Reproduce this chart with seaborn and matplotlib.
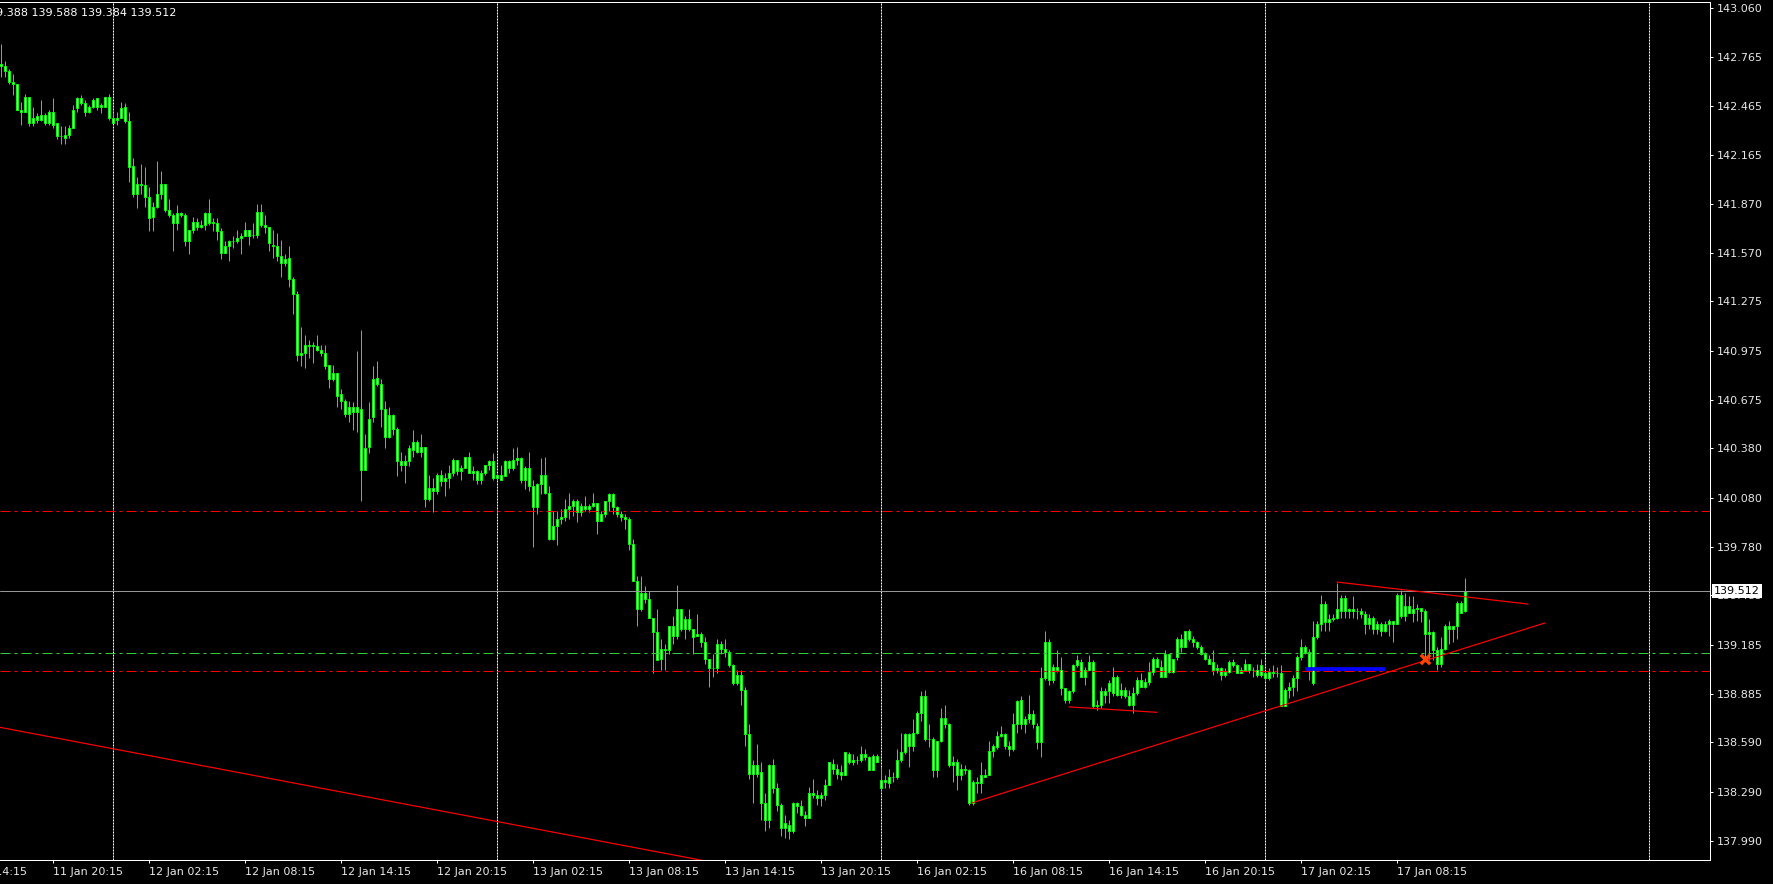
import numpy as np
import pandas as pd
import matplotlib
matplotlib.use("Agg")
import matplotlib.pyplot as plt
import seaborn as sns

# M15 candles, one per bar
opens = [
    142.72, 142.71, 142.68, 142.61, 142.60, 142.44, 142.43, 142.52, 142.36, 142.38,
    142.38, 142.41, 142.36, 142.43, 142.36, 142.28, 142.27, 142.29, 142.33, 142.45,
    142.48, 142.48, 142.43, 142.46, 142.46, 142.47, 142.46, 142.52, 142.36, 142.38,
    142.39, 142.46, 142.37, 142.10, 141.93, 141.99, 141.98, 141.91, 141.79, 141.85,
    141.93, 141.99, 141.83, 141.80, 141.75, 141.81, 141.80, 141.64, 141.71, 141.76,
    141.73, 141.74, 141.81, 141.76, 141.75, 141.70, 141.57, 141.61, 141.64, 141.64,
    141.66, 141.67, 141.71, 141.68, 141.68, 141.82, 141.74, 141.73, 141.62, 141.61,
    141.55, 141.51, 141.54, 141.41, 141.32, 140.95, 140.96, 141.00, 141.01, 141.00,
    140.98, 140.96, 140.89, 140.80, 140.84, 140.71, 140.67, 140.59, 140.63, 140.60,
    140.62, 140.25, 140.39, 140.57, 140.81, 140.77, 140.62, 140.45, 140.58, 140.50,
    140.30, 140.28, 140.30, 140.37, 140.42, 140.36, 140.39, 140.07, 140.14, 140.12,
    140.22, 140.18, 140.20, 140.23, 140.31, 140.24, 140.26, 140.33, 140.23, 140.24,
    140.19, 140.23, 140.28, 140.30, 140.20, 140.22, 140.21, 140.30, 140.26, 140.31,
    140.32, 140.19, 140.26, 140.15, 140.02, 140.16, 140.22, 140.11, 139.83, 139.91,
    139.95, 139.96, 140.01, 140.03, 140.06, 139.99, 140.03, 140.01, 140.03, 140.05,
    139.94, 139.98, 140.06, 140.10, 140.02, 139.98, 139.96, 139.95, 139.80, 139.57,
    139.40, 139.50, 139.46, 139.35, 139.26, 139.10, 139.16, 139.15, 139.30, 139.24,
    139.40, 139.28, 139.34, 139.28, 139.24, 139.25, 139.20, 139.10, 139.04, 139.04,
    139.19, 139.16, 139.14, 139.06, 138.95, 139.00, 138.91, 138.64, 138.40, 138.45,
    138.41, 138.22, 138.12, 138.45, 138.31, 138.21, 138.07, 138.09, 138.05, 138.22,
    138.20, 138.15, 138.13, 138.28, 138.27, 138.25, 138.27, 138.33, 138.46, 138.43,
    138.39, 138.39, 138.52, 138.47, 138.48, 138.48, 138.52, 138.50, 138.42, 138.51,
    138.31, 138.36, 138.34, 138.38, 138.38, 138.48, 138.53, 138.64, 138.57, 138.65,
    138.77, 138.87, 138.61, 138.61, 138.42, 138.60, 138.74, 138.70, 138.45, 138.47,
    138.39, 138.43, 138.42, 138.22, 138.35, 138.34, 138.38, 138.39, 138.54, 138.56,
    138.63, 138.64, 138.57, 138.55, 138.70, 138.85, 138.70, 138.73, 138.76, 138.69,
    138.59, 138.98, 139.20, 138.97, 139.05, 139.03, 138.92, 138.85, 138.90, 139.06,
    139.08, 138.99, 139.03, 139.08, 138.81, 138.82, 138.90, 138.90, 138.89, 138.99,
    138.88, 138.91, 138.87, 138.82, 138.89, 138.97, 138.93, 138.96, 139.02, 139.10,
    139.05, 138.99, 139.13, 139.02, 139.11, 139.22, 139.17, 139.27, 139.22, 139.20,
    139.17, 139.13, 139.10, 139.08, 139.03, 139.04, 139.00, 139.02, 139.08, 139.06,
    139.01, 139.03, 139.07, 139.03, 139.03, 139.00, 139.01, 138.98, 139.02, 139.01,
    139.01, 138.81, 138.91, 138.93, 138.98, 139.11, 139.17, 139.14, 138.95, 139.23,
    139.31, 139.43, 139.32, 139.34, 139.35, 139.39, 139.47, 139.39, 139.40, 139.39,
    139.39, 139.37, 139.31, 139.35, 139.28, 139.31, 139.27, 139.31, 139.33, 139.31,
    139.49, 139.36, 139.42, 139.38, 139.40, 139.41, 139.39, 139.25, 139.26, 139.15,
    139.07, 139.16, 139.30, 139.28, 139.30, 139.44, 139.388,
]
highs = [
    142.84, 142.74, 142.69, 142.66, 142.60, 142.49, 142.54, 142.52, 142.46, 142.42,
    142.50, 142.42, 142.44, 142.51, 142.36, 142.34, 142.34, 142.35, 142.47, 142.52,
    142.53, 142.50, 142.47, 142.51, 142.51, 142.48, 142.52, 142.54, 142.43, 142.43,
    142.49, 142.48, 142.43, 142.15, 142.03, 142.11, 142.09, 141.97, 141.88, 142.13,
    142.07, 141.99, 141.90, 141.81, 141.86, 141.82, 141.81, 141.71, 141.79, 141.78,
    141.77, 141.82, 141.90, 141.78, 141.78, 141.72, 141.64, 141.65, 141.67, 141.71,
    141.69, 141.76, 141.71, 141.75, 141.87, 141.87, 141.80, 141.73, 141.71, 141.69,
    141.65, 141.56, 141.61, 141.42, 141.34, 141.12, 141.07, 141.04, 141.03, 141.07,
    141.01, 141.01, 140.89, 140.89, 140.84, 140.74, 140.68, 140.67, 140.66, 140.97,
    141.10, 140.47, 140.66, 140.88, 140.91, 140.80, 140.67, 140.63, 140.59, 140.51,
    140.36, 140.34, 140.40, 140.49, 140.43, 140.47, 140.39, 140.22, 140.20, 140.23,
    140.25, 140.23, 140.28, 140.32, 140.31, 140.28, 140.33, 140.36, 140.27, 140.25,
    140.25, 140.28, 140.31, 140.35, 140.22, 140.28, 140.31, 140.31, 140.38, 140.39,
    140.33, 140.27, 140.36, 140.19, 140.17, 140.32, 140.33, 140.15, 140.00, 140.00,
    140.01, 140.07, 140.11, 140.07, 140.07, 140.05, 140.09, 140.04, 140.11, 140.05,
    140.00, 140.06, 140.11, 140.11, 140.03, 140.00, 139.98, 139.96, 139.83, 139.60,
    139.60, 139.54, 139.51, 139.35, 139.40, 139.22, 139.19, 139.30, 139.36, 139.55,
    139.40, 139.36, 139.40, 139.28, 139.37, 139.26, 139.23, 139.10, 139.13, 139.22,
    139.21, 139.22, 139.15, 139.07, 139.03, 139.03, 138.93, 138.70, 138.48, 138.58,
    138.47, 138.28, 138.46, 138.49, 138.34, 138.22, 138.15, 138.12, 138.23, 138.23,
    138.24, 138.17, 138.32, 138.37, 138.30, 138.29, 138.37, 138.47, 138.49, 138.46,
    138.45, 138.53, 138.53, 138.52, 138.51, 138.57, 138.55, 138.51, 138.52, 138.52,
    138.44, 138.39, 138.43, 138.41, 138.55, 138.65, 138.65, 138.65, 138.73, 138.78,
    138.90, 138.91, 138.70, 138.62, 138.60, 138.80, 138.82, 138.71, 138.51, 138.49,
    138.46, 138.45, 138.43, 138.36, 138.38, 138.47, 138.43, 138.60, 138.58, 138.66,
    138.69, 138.65, 138.60, 138.77, 138.85, 138.87, 138.75, 138.88, 138.79, 138.71,
    139.05, 139.27, 139.22, 139.07, 139.15, 139.11, 138.92, 138.91, 139.07, 139.12,
    139.10, 139.05, 139.12, 139.09, 138.85, 138.93, 138.92, 138.97, 139.05, 139.00,
    138.95, 138.93, 138.91, 138.93, 138.99, 139.01, 138.98, 139.08, 139.11, 139.11,
    139.09, 139.15, 139.13, 139.10, 139.23, 139.25, 139.27, 139.28, 139.24, 139.21,
    139.18, 139.14, 139.12, 139.15, 139.07, 139.05, 139.04, 139.09, 139.10, 139.07,
    139.05, 139.10, 139.07, 139.05, 139.07, 139.10, 139.03, 139.04, 139.06, 139.05,
    139.06, 138.92, 138.96, 139.00, 139.12, 139.22, 139.18, 139.16, 139.33, 139.33,
    139.49, 139.45, 139.37, 139.37, 139.56, 139.49, 139.49, 139.41, 139.48, 139.41,
    139.41, 139.39, 139.37, 139.36, 139.33, 139.32, 139.33, 139.34, 139.33, 139.50,
    139.52, 139.50, 139.48, 139.48, 139.43, 139.41, 139.40, 139.34, 139.27, 139.17,
    139.23, 139.31, 139.33, 139.30, 139.45, 139.45, 139.588,
]
lows = [
    142.64, 142.64, 142.60, 142.53, 142.44, 142.35, 142.43, 142.34, 142.34, 142.36,
    142.37, 142.35, 142.35, 142.33, 142.26, 142.23, 142.23, 142.27, 142.33, 142.43,
    142.47, 142.40, 142.42, 142.45, 142.44, 142.42, 142.46, 142.38, 142.36, 142.35,
    142.39, 142.36, 142.00, 141.91, 141.84, 141.93, 141.85, 141.70, 141.70, 141.84,
    141.90, 141.82, 141.79, 141.58, 141.71, 141.79, 141.61, 141.56, 141.69, 141.71,
    141.72, 141.71, 141.74, 141.70, 141.65, 141.53, 141.57, 141.52, 141.60, 141.63,
    141.56, 141.67, 141.62, 141.66, 141.66, 141.73, 141.69, 141.58, 141.54, 141.52,
    141.42, 141.49, 141.36, 141.20, 140.91, 140.88, 140.87, 140.93, 140.90, 140.97,
    140.94, 140.86, 140.75, 140.79, 140.63, 140.62, 140.57, 140.54, 140.49, 140.48,
    140.06, 140.25, 140.35, 140.54, 140.76, 140.51, 140.38, 140.44, 140.46, 140.21,
    140.24, 140.17, 140.27, 140.33, 140.35, 140.33, 140.02, 140.06, 139.99, 140.10,
    140.15, 140.09, 140.14, 140.21, 140.22, 140.19, 140.26, 140.23, 140.19, 140.16,
    140.16, 140.22, 140.25, 140.19, 140.19, 140.19, 140.21, 140.23, 140.25, 140.28,
    140.17, 140.13, 140.12, 139.78, 139.98, 140.10, 140.10, 139.82, 139.82, 139.79,
    139.92, 139.94, 139.95, 139.97, 139.93, 139.97, 140.00, 139.99, 140.02, 139.86,
    139.94, 139.96, 140.00, 139.98, 139.96, 139.94, 139.89, 139.76, 139.57, 139.30,
    139.39, 139.44, 139.35, 139.01, 139.09, 139.03, 139.03, 139.13, 139.19, 139.22,
    139.27, 139.22, 139.27, 139.13, 139.24, 139.17, 139.07, 138.93, 138.99, 139.01,
    139.13, 139.11, 139.05, 138.94, 138.94, 138.82, 138.57, 138.37, 138.22, 138.38,
    138.12, 138.05, 138.07, 138.28, 138.17, 138.02, 138.01, 138.00, 138.04, 138.16,
    138.14, 138.08, 138.13, 138.25, 138.21, 138.20, 138.24, 138.33, 138.40, 138.37,
    138.36, 138.39, 138.46, 138.45, 138.46, 138.47, 138.48, 138.42, 138.42, 138.47,
    138.30, 138.31, 138.31, 138.35, 138.37, 138.47, 138.52, 138.44, 138.54, 138.64,
    138.72, 138.60, 138.56, 138.38, 138.38, 138.59, 138.68, 138.44, 138.35, 138.30,
    138.36, 138.40, 138.21, 138.21, 138.28, 138.28, 138.38, 138.39, 138.50, 138.55,
    138.62, 138.55, 138.51, 138.54, 138.65, 138.67, 138.65, 138.71, 138.68, 138.55,
    138.50, 138.97, 138.94, 138.95, 139.02, 138.88, 138.83, 138.83, 138.89, 139.05,
    138.99, 138.94, 139.03, 138.80, 138.79, 138.80, 138.83, 138.83, 138.87, 138.87,
    138.86, 138.86, 138.81, 138.77, 138.88, 138.93, 138.92, 138.94, 139.00, 139.05,
    138.99, 138.99, 139.01, 139.01, 139.09, 139.14, 139.17, 139.21, 139.17, 139.16,
    139.12, 139.09, 139.07, 139.00, 139.01, 138.97, 138.99, 139.01, 139.05, 139.01,
    139.01, 139.03, 139.01, 138.99, 138.99, 138.99, 138.97, 138.97, 138.99, 138.99,
    138.81, 138.81, 138.86, 138.87, 138.90, 139.09, 139.13, 138.97, 138.94, 139.22,
    139.27, 139.27, 139.27, 139.33, 139.34, 139.35, 139.35, 139.35, 139.35, 139.34,
    139.35, 139.25, 139.28, 139.25, 139.25, 139.24, 139.26, 139.24, 139.20, 139.31,
    139.35, 139.33, 139.38, 139.32, 139.33, 139.32, 139.10, 139.09, 139.09, 139.03,
    139.05, 139.15, 139.19, 139.20, 139.22, 139.38, 139.384,
]
closes = [
    142.71, 142.68, 142.61, 142.60, 142.44, 142.43, 142.52, 142.36, 142.39, 142.40,
    142.41, 142.36, 142.43, 142.35, 142.28, 142.28, 142.29, 142.33, 142.44, 142.51,
    142.51, 142.43, 142.46, 142.50, 142.51, 142.46, 142.52, 142.39, 142.39, 142.39,
    142.45, 142.37, 142.09, 141.93, 141.99, 141.98, 141.91, 141.78, 141.85, 141.93,
    141.99, 141.83, 141.80, 141.75, 141.81, 141.80, 141.64, 141.71, 141.76, 141.73,
    141.74, 141.81, 141.75, 141.75, 141.70, 141.57, 141.61, 141.64, 141.64, 141.66,
    141.67, 141.71, 141.67, 141.68, 141.82, 141.74, 141.73, 141.63, 141.61, 141.55,
    141.51, 141.53, 141.41, 141.32, 140.95, 140.96, 141.01, 141.01, 141.00, 140.98,
    140.96, 140.88, 140.80, 140.84, 140.70, 140.67, 140.59, 140.63, 140.60, 140.63,
    140.25, 140.38, 140.56, 140.80, 140.77, 140.62, 140.45, 140.58, 140.50, 140.30,
    140.28, 140.30, 140.38, 140.42, 140.36, 140.39, 140.07, 140.14, 140.12, 140.22,
    140.18, 140.20, 140.23, 140.31, 140.24, 140.26, 140.33, 140.23, 140.24, 140.19,
    140.23, 140.28, 140.30, 140.20, 140.22, 140.19, 140.30, 140.26, 140.31, 140.32,
    140.19, 140.26, 140.15, 140.02, 140.16, 140.22, 140.11, 139.83, 139.91, 139.95,
    139.96, 140.01, 140.03, 140.06, 139.99, 140.03, 140.01, 140.03, 140.05, 139.94,
    139.98, 140.06, 140.10, 140.02, 139.98, 139.96, 139.95, 139.80, 139.57, 139.40,
    139.50, 139.46, 139.35, 139.26, 139.09, 139.16, 139.15, 139.30, 139.24, 139.40,
    139.28, 139.34, 139.28, 139.23, 139.25, 139.20, 139.10, 139.04, 139.04, 139.19,
    139.16, 139.14, 139.06, 138.95, 139.00, 138.91, 138.64, 138.40, 138.45, 138.40,
    138.22, 138.12, 138.45, 138.31, 138.21, 138.07, 138.10, 138.05, 138.22, 138.20,
    138.15, 138.13, 138.28, 138.27, 138.25, 138.27, 138.33, 138.47, 138.43, 138.40,
    138.41, 138.53, 138.47, 138.48, 138.48, 138.52, 138.50, 138.42, 138.51, 138.47,
    138.36, 138.35, 138.38, 138.38, 138.48, 138.53, 138.64, 138.57, 138.65, 138.77,
    138.87, 138.61, 138.61, 138.42, 138.60, 138.74, 138.70, 138.45, 138.47, 138.39,
    138.43, 138.42, 138.22, 138.35, 138.34, 138.39, 138.39, 138.54, 138.57, 138.63,
    138.64, 138.57, 138.55, 138.70, 138.84, 138.70, 138.73, 138.76, 138.70, 138.59,
    138.98, 139.20, 138.97, 139.05, 139.03, 138.92, 138.85, 138.90, 139.06, 139.09,
    138.99, 139.03, 139.08, 138.81, 138.82, 138.90, 138.88, 138.95, 138.99, 138.88,
    138.91, 138.87, 138.82, 138.89, 138.97, 138.93, 138.96, 139.02, 139.10, 139.05,
    138.99, 139.13, 139.02, 139.10, 139.22, 139.17, 139.27, 139.22, 139.20, 139.17,
    139.13, 139.10, 139.07, 139.03, 139.04, 139.00, 139.02, 139.08, 139.06, 139.01,
    139.03, 139.07, 139.03, 139.03, 139.00, 139.06, 138.98, 139.02, 139.01, 139.01,
    138.81, 138.91, 138.93, 138.98, 139.11, 139.17, 139.14, 139.03, 139.23, 139.31,
    139.43, 139.32, 139.34, 139.35, 139.40, 139.47, 139.39, 139.40, 139.39, 139.39,
    139.37, 139.31, 139.35, 139.28, 139.31, 139.27, 139.31, 139.33, 139.31, 139.49,
    139.36, 139.42, 139.38, 139.40, 139.41, 139.39, 139.25, 139.26, 139.15, 139.07,
    139.16, 139.30, 139.28, 139.30, 139.44, 139.38, 139.512,
]

y_tick_labels = ["143.060", "142.765", "142.465", "142.165", "141.870", "141.570",
                 "141.275", "140.975", "140.675", "140.380", "140.080", "139.780",
                 "139.485", "139.185", "138.885", "138.590", "138.290", "137.990"]
x_tick_labels = ["11 Jan 20:15", "12 Jan 02:15", "12 Jan 08:15", "12 Jan 14:15",
                 "12 Jan 20:15", "13 Jan 02:15", "13 Jan 08:15", "13 Jan 14:15",
                 "13 Jan 20:15", "16 Jan 02:15", "16 Jan 08:15", "16 Jan 14:15",
                 "16 Jan 20:15", "17 Jan 02:15", "17 Jan 08:15"]
cut_label = "11 Jan 14:15"
day_start_bars = [28, 124, 220, 316, 412]

red_levels = [140.00, 139.025]
green_level = 139.135
last_price = 139.512
header = "139.388 139.588 139.384 139.512"

# trend lines: (bar, price) pairs
trend_bars = [(-1, 180), (242.5, 386), (334, 381.75), (267, 289)]
trend_prices = [(138.685, 137.85), (138.22, 139.317), (139.566, 139.432), (138.806, 138.773)]
blue_bars = (326, 346)
blue_price = 139.035
mark_bar, mark_price = 356, 139.10

df = pd.DataFrame({"open": opens, "high": highs, "low": lows, "close": closes})
df["bar"] = np.arange(len(df))

sns.set_theme(style="dark", rc={"axes.facecolor": "black", "figure.facecolor": "black",
                                "axes.edgecolor": "white", "text.color": "white",
                                "xtick.color": "white", "ytick.color": "white"})
plt.rcParams["font.family"] = ["DejaVu Sans"]

W, H = 1773, 884
fig = plt.figure(figsize=(W / 100, H / 100), dpi=100)
ax = fig.add_axes([0, 24 / H, 1710 / W, 858 / H])
ax.set_xlim(-0.25, 427.25)
ax.set_ylim(137.874, 143.097)
ax.grid(False)

px = 0.72  # one pixel in points
lime = "#00ff00"

for b in day_start_bars:
    ax.axvline(b, color="white", lw=px, dashes=(2, 1), zorder=1)

for lvl in red_levels:
    ax.axhline(lvl, color="#ff0000", lw=px, dashes=(10, 4, 3, 4), zorder=4)
ax.axhline(green_level, color="#32cd32", lw=px, dashes=(10, 4, 3, 4), zorder=4)
ax.axhline(last_price, color="#969696", lw=px, zorder=4)

# candles
body_low = df[["open", "close"]].min(axis=1)
body_h = (df["close"] - df["open"]).abs()
ax.vlines(df["bar"], df["low"], df["high"], color=lime, lw=px, zorder=2)
ax.bar(df["bar"], body_h, bottom=body_low, width=0.5, color="white",
       edgecolor=lime, linewidth=px, zorder=3)

# drawn objects
for xs, ys in zip(trend_bars, trend_prices):
    sns.lineplot(x=list(xs), y=list(ys), ax=ax, color="#ff0000", lw=px * 1.2,
                 sort=False, zorder=5)
ax.plot(blue_bars, [blue_price, blue_price], color="#0000ff", lw=2.7,
        solid_capstyle="butt", zorder=5)
sns.scatterplot(x=[mark_bar], y=[mark_price], ax=ax, marker="x", s=45,
                color="#ff4500", linewidth=2.4, zorder=6)

# spines
for side in ["top", "right", "bottom"]:
    ax.spines[side].set_color("white")
    ax.spines[side].set_linewidth(px)
ax.spines["left"].set_visible(False)

# y axis on the right
ax.yaxis.tick_right()
ax.set_yticks([float(s) for s in y_tick_labels])
ax.set_yticklabels(y_tick_labels)
ax.tick_params(axis="y", right=True, left=False, length=2.2, width=px, pad=2.9,
               labelsize=8, colors="white", labelcolor="#e8e8e8")

# x axis
tick_bars = [13 + 24 * k for k in range(len(x_tick_labels))]
ax.set_xticks(tick_bars)
ax.set_xticklabels(x_tick_labels, ha="left")
ax.tick_params(axis="x", bottom=True, length=2.2, width=px, pad=2.9,
               labelsize=8, colors="white", labelcolor="#e8e8e8")
ax.text(13 - 24, -7.1 / 858, cut_label, transform=ax.get_xaxis_transform(),
        ha="left", va="top", fontsize=8, color="#e8e8e8", clip_on=False)

ax.set_xlabel("")
ax.set_ylabel("")
if ax.get_legend():
    ax.get_legend().remove()

# current price tag
ax.annotate(f"{last_price:.3f}", xy=(1, last_price), xycoords=("axes fraction", "data"),
            xytext=(4, 0), textcoords="offset pixels", ha="left", va="center",
            fontsize=8, color="black", annotation_clip=False, zorder=10,
            bbox=dict(boxstyle="square,pad=0.18", fc="white", ec="none"))

fig.text(176 / W, 1 - 12.7 / H, header, ha="right", va="center", fontsize=8, color="white")

fig.savefig("out.png", dpi=100, facecolor="black")
